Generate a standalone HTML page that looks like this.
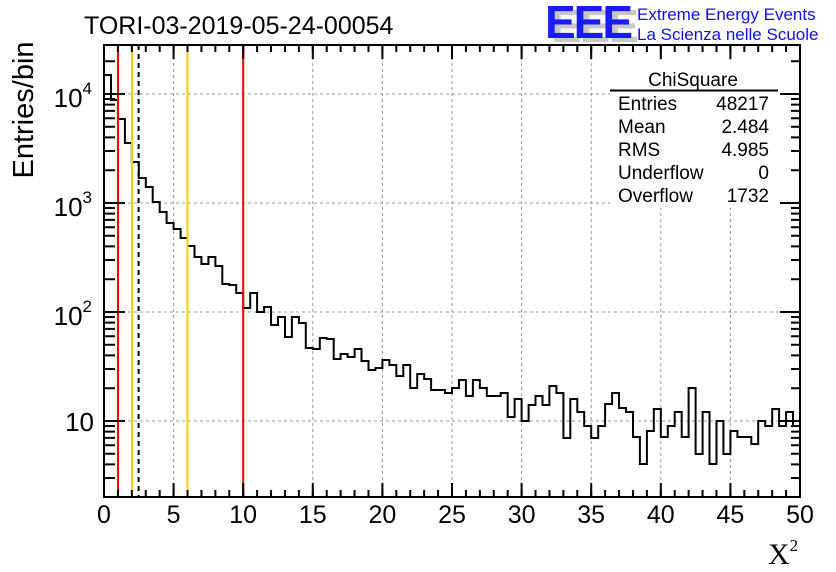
<!DOCTYPE html>
<html><head><meta charset="utf-8"><style>
html,body{margin:0;padding:0;background:#fff;}
svg{display:block;font-family:"Liberation Sans",Arial,sans-serif;}
</style></head><body>
<svg width="836" height="572" viewBox="0 0 836 572" xmlns="http://www.w3.org/2000/svg">
<rect width="836" height="572" fill="#fff"/>
<!-- grid -->
<g stroke="#999" stroke-width="1" stroke-dasharray="3 3" fill="none">
<path d="M173.6,45V497M243.2,45V497M312.8,45V497M382.4,45V497M452,45V497M521.6,45V497M591.2,45V497M660.8,45V497M730.4,45V497"/>
<path d="M104,94H800M104,203H800M104,312H800M104,421H800"/>
</g>
<!-- histogram -->
<path fill="none" stroke="#000" stroke-width="2" d="M104,497V75H111V100H117.9V119H124.9V143H131.8V162H138.8V178H145.8V187H152.7V202H159.7V212H166.6V223H173.6V229H180.6V238H187.5V246H194.5V257H201.4V264H208.4V257H215.4V266H222.3V284H229.3V285H236.2V293H243.2V308H250.2V293H257.1V312H264.1V307H271V325H278V317H285V337H291.9V317H298.9V323H305.8V348H312.8V349H319.8V338H326.7V339H333.7V359H340.6V354H347.6V357H354.6V349H361.5V361H368.5V370H375.4V368H382.4V360H389.4V365H396.3V376H403.3V365H410.2V388H417.2V374H424.2V379H431.1V390H438.1V390H445V393H452V388H459V380H465.9V396H472.9V380H479.8V388H486.8V396H493.8V396H500.7V393H507.7V417H514.6V399H521.6V421H528.6V405H535.5V396H542.5V405H549.4V386H556.4V393H563.4V438H570.3V399H577.3V412H584.2V426H591.2V438H598.2V426H605.1V404H612.1V393H619V408H626V412H633V437H639.9V464H646.9V431H653.8V409H660.8V437H667.8V426H674.7V412H681.7V437H688.6V388H695.6V454H702.6V412H709.5V464H716.5V421H723.4V454H730.4V431H737.4V437H744.3V437H751.3V444H758.2V421H765.2V426H772.2V409H779.1V426H786.1V412H793V426H800"/>
<!-- vertical markers -->
<g stroke-width="2">
<line x1="118" y1="45" x2="118" y2="497" stroke="#f00"/>
<line x1="132" y1="45" x2="132" y2="497" stroke="#fc0"/>
<line x1="138.6" y1="45" x2="138.6" y2="497" stroke="#000" stroke-dasharray="5 4"/>
<line x1="187.5" y1="45" x2="187.5" y2="497" stroke="#fc0"/>
<line x1="243.2" y1="45" x2="243.2" y2="497" stroke="#f00"/>
</g>
<!-- frame -->
<rect x="104" y="45" width="696" height="452" fill="none" stroke="#000" stroke-width="2"/>
<!-- x ticks -->
<g stroke="#000" stroke-width="2" fill="none">
<path d="M104,497v-7m13.92,7v-7m13.92,7v-7m13.92,7v-7m13.92,7v-7m13.92,7v-7m13.92,7v-7m13.92,7v-7m13.92,7v-7m13.92,7v-7m13.92,7v-7m13.92,7v-7m13.92,7v-7m13.92,7v-7m13.92,7v-7m13.92,7v-7m13.92,7v-7m13.92,7v-7m13.92,7v-7m13.92,7v-7m13.92,7v-7m13.92,7v-7m13.92,7v-7m13.92,7v-7m13.92,7v-7m13.92,7v-7m13.92,7v-7m13.92,7v-7m13.92,7v-7m13.92,7v-7m13.92,7v-7m13.92,7v-7m13.92,7v-7m13.92,7v-7m13.92,7v-7m13.92,7v-7m13.92,7v-7m13.92,7v-7m13.92,7v-7m13.92,7v-7m13.92,7v-7m13.92,7v-7m13.92,7v-7m13.92,7v-7m13.92,7v-7m13.92,7v-7m13.92,7v-7m13.92,7v-7m13.92,7v-7m13.92,7v-7"/>
<path d="M104,497v-14m69.6,14v-14m69.6,14v-14m69.6,14v-14m69.6,14v-14m69.6,14v-14m69.6,14v-14m69.6,14v-14m69.6,14v-14m69.6,14v-14m69.6,14v-14"/>
<path d="M104,45v7m13.92,-7v7m13.92,-7v7m13.92,-7v7m13.92,-7v7m13.92,-7v7m13.92,-7v7m13.92,-7v7m13.92,-7v7m13.92,-7v7m13.92,-7v7m13.92,-7v7m13.92,-7v7m13.92,-7v7m13.92,-7v7m13.92,-7v7m13.92,-7v7m13.92,-7v7m13.92,-7v7m13.92,-7v7m13.92,-7v7m13.92,-7v7m13.92,-7v7m13.92,-7v7m13.92,-7v7m13.92,-7v7m13.92,-7v7m13.92,-7v7m13.92,-7v7m13.92,-7v7m13.92,-7v7m13.92,-7v7m13.92,-7v7m13.92,-7v7m13.92,-7v7m13.92,-7v7m13.92,-7v7m13.92,-7v7m13.92,-7v7m13.92,-7v7m13.92,-7v7m13.92,-7v7m13.92,-7v7m13.92,-7v7m13.92,-7v7m13.92,-7v7m13.92,-7v7m13.92,-7v7m13.92,-7v7m13.92,-7v7m13.92,-7v7"/>
<path d="M104,45v14m69.6,-14v14m69.6,-14v14m69.6,-14v14m69.6,-14v14m69.6,-14v14m69.6,-14v14m69.6,-14v14m69.6,-14v14m69.6,-14v14m69.6,-14v14"/>
</g>
<!-- y ticks -->
<g stroke="#000" stroke-width="2" fill="none">
<path d="M104,94h21M104,203h21M104,312h21M104,421h21M800,94h-20M800,203h-20M800,312h-20M800,421h-20"/>
<path d="M104,61.2h11M104,478h11M104,464.4h11M104,453.8h11M104,445.2h11M104,437.9h11M104,431.6h11M104,426h11M104,388.2h11M104,369h11M104,355.4h11M104,344.8h11M104,336.2h11M104,328.9h11M104,322.6h11M104,317h11M104,279.2h11M104,260h11M104,246.4h11M104,235.8h11M104,227.2h11M104,219.9h11M104,213.6h11M104,208h11M104,170.2h11M104,151h11M104,137.4h11M104,126.8h11M104,118.2h11M104,110.9h11M104,104.6h11M104,99h11"/>
<path d="M800,61.2h-9M800,478h-9M800,464.4h-9M800,453.8h-9M800,445.2h-9M800,437.9h-9M800,431.6h-9M800,426h-9M800,388.2h-9M800,369h-9M800,355.4h-9M800,344.8h-9M800,336.2h-9M800,328.9h-9M800,322.6h-9M800,317h-9M800,279.2h-9M800,260h-9M800,246.4h-9M800,235.8h-9M800,227.2h-9M800,219.9h-9M800,213.6h-9M800,208h-9M800,170.2h-9M800,151h-9M800,137.4h-9M800,126.8h-9M800,118.2h-9M800,110.9h-9M800,104.6h-9M800,99h-9"/>
</g>
<!-- y labels -->
<g font-size="26" fill="#000" text-anchor="end">
<text x="92" y="107">10<tspan font-size="17" dy="-13">4</tspan></text>
<text x="92" y="216">10<tspan font-size="17" dy="-13">3</tspan></text>
<text x="92" y="325">10<tspan font-size="17" dy="-13">2</tspan></text>
<text x="94" y="431">10</text>
</g>
<!-- x labels -->
<g font-size="25" fill="#000" text-anchor="middle">
<text x="104" y="523">0</text><text x="173.6" y="523">5</text><text x="243.2" y="523">10</text><text x="312.8" y="523">15</text><text x="382.4" y="523">20</text><text x="452" y="523">25</text><text x="521.6" y="523">30</text><text x="591.2" y="523">35</text><text x="660.8" y="523">40</text><text x="730.4" y="523">45</text><text x="800" y="523">50</text>
</g>
<text x="768" y="564" font-family="'Liberation Serif',serif" font-size="30">X<tspan font-size="17" dy="-13">2</tspan></text>
<text transform="translate(33,110) rotate(-90)" font-size="29" text-anchor="middle">Entries/bin</text>
<text x="84" y="34" font-size="25">TORI-03-2019-05-24-00054</text>
<!-- logo -->
<text x="551" y="42" font-size="46" font-weight="bold" fill="#c8c8c8" letter-spacing="-2">EEE</text>
<text x="545" y="38" font-size="46" font-weight="bold" fill="#1a1aff" letter-spacing="-2">EEE</text>
<text x="637" y="20" font-size="17" fill="#1010ee">Extreme Energy Events</text>
<text x="637" y="40" font-size="17" fill="#1010ee">La Scienza nelle Scuole</text>
<!-- stats box -->
<rect x="610" y="62" width="170" height="146" fill="#fff"/>
<text x="693" y="86" font-size="19" text-anchor="middle">ChiSquare</text>
<line x1="610" y1="90.5" x2="778" y2="90.5" stroke="#000" stroke-width="2"/>
<g font-size="19">
<text x="618" y="110">Entries</text><text x="769" y="110" text-anchor="end">48217</text>
<text x="618" y="133">Mean</text><text x="769" y="133" text-anchor="end">2.484</text>
<text x="618" y="156">RMS</text><text x="769" y="156" text-anchor="end">4.985</text>
<text x="618" y="179">Underflow</text><text x="769" y="179" text-anchor="end">0</text>
<text x="618" y="202">Overflow</text><text x="769" y="202" text-anchor="end">1732</text>
</g>
</svg>
</body></html>
